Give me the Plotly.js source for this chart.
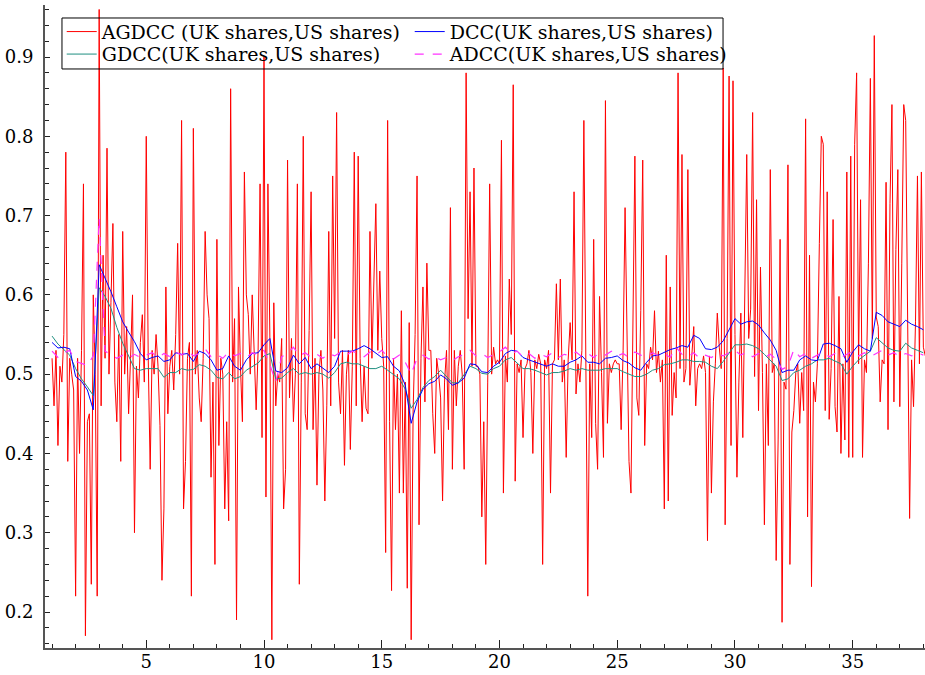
<!DOCTYPE html>
<html>
<head>
<meta charset="utf-8">
<script src="https://cdn.plot.ly/plotly-3.0.1.min.js"></script>
<style>html,body{margin:0;padding:0;background:#fff;}#chart{width:925px;height:675px;}</style>
</head>
<body>
<div id="chart"></div>
<script>
// Series names
const seriesNames = ["AGDCC (UK shares,US shares)", "DCC(UK shares,US shares)", "GDCC(UK shares,US shares)", "ADCC(UK shares,US shares)"];

// AGDCC: 12 observations per unit, starting at 1
const agdccStart = 1, agdccStep = 1/12;
const agdcc = [
0.52,0.46,0.53,0.41,0.51,0.49,0.55,0.78,0.39,0.52,0.50,0.48,
0.22,0.52,0.40,0.53,0.74,0.17,0.44,0.45,0.235,0.60,0.50,0.22,
0.96,0.46,0.65,0.52,0.785,0.50,0.59,0.69,0.49,0.44,0.55,0.39,
0.68,0.50,0.56,0.45,0.52,0.60,0.30,0.51,0.47,0.54,0.575,0.49,
0.80,0.52,0.38,0.53,0.50,0.55,0.51,0.435,0.24,0.33,0.61,0.45,
0.51,0.53,0.48,0.55,0.665,0.50,0.82,0.33,0.39,0.52,0.54,0.22,
0.81,0.50,0.53,0.47,0.44,0.52,0.68,0.60,0.57,0.37,0.49,0.26,
0.67,0.41,0.52,0.50,0.33,0.44,0.315,0.86,0.49,0.57,0.19,0.61,
0.51,0.44,0.755,0.60,0.575,0.50,0.60,0.52,0.455,0.53,0.74,0.42,
0.90,0.345,0.74,0.545,0.165,0.59,0.46,0.50,0.49,0.545,0.33,0.38,
0.77,0.47,0.545,0.44,0.50,0.74,0.235,0.49,0.80,0.45,0.43,0.555,
0.73,0.43,0.52,0.36,0.50,0.53,0.48,0.34,0.46,0.68,0.46,0.75,
0.545,0.83,0.49,0.45,0.53,0.385,0.50,0.53,0.405,0.51,0.78,0.46,
0.775,0.52,0.44,0.51,0.457,0.45,0.68,0.52,0.625,0.715,0.53,0.63,
0.545,0.51,0.275,0.82,0.44,0.227,0.52,0.43,0.50,0.35,0.58,0.35,
0.49,0.23,0.565,0.165,0.455,0.55,0.75,0.31,0.52,0.61,0.465,0.64,
0.53,0.53,0.45,0.40,0.52,0.50,0.47,0.34,0.49,0.53,0.43,0.71,
0.38,0.53,0.46,0.51,0.53,0.50,0.38,0.88,0.57,0.73,0.51,0.76,
0.51,0.51,0.50,0.32,0.44,0.26,0.49,0.74,0.50,0.534,0.513,0.518,
0.513,0.795,0.35,0.523,0.49,0.62,0.55,0.865,0.365,0.513,0.502,0.518,
0.42,0.507,0.513,0.53,0.502,0.40,0.518,0.507,0.525,0.513,0.26,0.518,
0.507,0.53,0.35,0.513,0.518,0.614,0.518,0.62,0.49,0.518,0.395,0.518,
0.565,0.518,0.73,0.475,0.513,0.49,0.53,0.82,0.518,0.22,0.513,0.42,
0.67,0.438,0.38,0.598,0.502,0.395,0.845,0.438,0.513,0.502,0.513,0.518,
0.513,0.513,0.43,0.53,0.71,0.513,0.39,0.35,0.53,0.775,0.47,0.448,
0.58,0.77,0.41,0.513,0.507,0.534,0.518,0.58,0.502,0.529,0.49,0.518,
0.33,0.65,0.34,0.61,0.448,0.502,0.47,0.88,0.507,0.777,0.49,0.507,
0.758,0.486,0.523,0.56,0.46,0.507,0.513,0.507,0.523,0.502,0.29,0.523,
0.35,0.465,0.513,0.577,0.534,0.507,0.886,0.31,0.545,0.876,0.41,0.87,
0.55,0.37,0.49,0.577,0.42,0.572,0.777,0.545,0.582,0.83,0.497,0.72,
0.454,0.635,0.502,0.31,0.513,0.41,0.758,0.502,0.513,0.265,0.417,0.67,
0.187,0.49,0.481,0.764,0.26,0.427,0.454,0.502,0.513,0.438,0.502,0.454,
0.822,0.32,0.65,0.232,0.49,0.465,0.513,0.665,0.80,0.79,0.454,0.73,
0.443,0.507,0.695,0.459,0.427,0.598,0.40,0.513,0.417,0.755,0.395,0.775,
0.395,0.79,0.88,0.513,0.72,0.395,0.518,0.502,0.64,0.873,0.545,0.927,
0.572,0.56,0.465,0.518,0.513,0.742,0.43,0.715,0.84,0.465,0.657,0.758,
0.459,0.64,0.84,0.82,0.529,0.318,0.518,0.459,0.566,0.75,0.513,0.755,
0.534,0.523
];

// Smooth series: 4 observations per unit, starting at 1
const smoothStart = 1, smoothStep = 0.25;
const dcc = [
0.540,0.533,0.534,0.532,0.497,0.491,0.480,0.455,
0.638,0.622,0.604,0.585,0.566,0.553,0.541,0.526,
0.518,0.521,0.523,0.516,0.518,0.527,0.525,0.526,
0.516,0.529,0.526,0.518,0.505,0.507,0.523,0.510,
0.505,0.518,0.526,0.527,0.537,0.545,0.504,0.502,
0.508,0.524,0.513,0.521,0.507,0.513,0.508,0.502,
0.510,0.529,0.529,0.529,0.532,0.536,0.532,0.526,
0.521,0.522,0.510,0.504,0.486,0.438,0.465,0.481,
0.488,0.491,0.499,0.494,0.486,0.489,0.495,0.513,
0.512,0.503,0.502,0.510,0.515,0.526,0.530,0.529,
0.521,0.518,0.515,0.512,0.510,0.513,0.510,0.510,
0.515,0.518,0.523,0.515,0.515,0.513,0.520,0.521,
0.523,0.517,0.514,0.508,0.505,0.515,0.523,0.524,
0.528,0.531,0.533,0.536,0.534,0.549,0.545,0.532,
0.531,0.534,0.542,0.556,0.570,0.563,0.566,0.567,
0.562,0.552,0.543,0.530,0.502,0.505,0.505,0.518,
0.523,0.518,0.517,0.538,0.539,0.536,0.532,0.515,
0.528,0.537,0.532,0.529,0.578,0.574,0.566,0.563,
0.560,0.568,0.563,0.560,0.556
];
const gdcc = [
0.548,0.538,0.531,0.524,0.507,0.494,0.484,0.473,
0.609,0.598,0.583,0.559,0.539,0.524,0.507,0.505,
0.507,0.507,0.507,0.496,0.502,0.502,0.507,0.505,
0.506,0.512,0.510,0.505,0.496,0.494,0.502,0.494,
0.497,0.505,0.510,0.514,0.523,0.526,0.494,0.495,
0.502,0.507,0.500,0.502,0.500,0.502,0.500,0.495,
0.502,0.513,0.515,0.513,0.513,0.510,0.507,0.507,
0.510,0.505,0.499,0.494,0.481,0.457,0.468,0.483,
0.492,0.497,0.505,0.497,0.489,0.489,0.499,0.510,
0.507,0.501,0.500,0.507,0.510,0.518,0.521,0.514,
0.507,0.507,0.505,0.502,0.499,0.502,0.502,0.504,
0.507,0.505,0.507,0.505,0.505,0.505,0.507,0.507,
0.507,0.503,0.500,0.497,0.497,0.500,0.505,0.507,
0.512,0.513,0.515,0.518,0.518,0.516,0.516,0.515,
0.510,0.507,0.516,0.526,0.537,0.537,0.538,0.536,
0.532,0.525,0.518,0.510,0.492,0.494,0.502,0.505,
0.510,0.513,0.518,0.518,0.520,0.517,0.513,0.500,
0.510,0.518,0.523,0.529,0.546,0.539,0.533,0.530,
0.529,0.539,0.533,0.530,0.527
];
const adcc = [
0.529,0.521,0.527,0.530,0.516,0.513,0.511,0.523,
0.697,0.529,0.524,0.520,0.524,0.520,0.525,0.521,
0.524,0.527,0.521,0.526,0.522,0.528,0.524,0.530,
0.523,0.526,0.532,0.522,0.525,0.520,0.528,0.523,
0.526,0.521,0.527,0.524,0.530,0.512,0.490,0.522,
0.526,0.534,0.523,0.527,0.521,0.525,0.520,0.526,
0.523,0.528,0.524,0.529,0.526,0.522,0.528,0.524,
0.530,0.522,0.519,0.524,0.515,0.500,0.520,0.524,
0.519,0.522,0.518,0.521,0.517,0.522,0.525,0.530,
0.523,0.526,0.521,0.525,0.528,0.534,0.526,0.529,
0.522,0.526,0.520,0.525,0.522,0.527,0.521,0.525,
0.523,0.528,0.522,0.526,0.521,0.527,0.524,0.529,
0.523,0.526,0.521,0.528,0.524,0.522,0.527,0.523,
0.526,0.521,0.534,0.525,0.522,0.527,0.520,0.524,
0.521,0.526,0.523,0.527,0.530,0.524,0.528,0.522,
0.526,0.521,0.525,0.519,0.506,0.510,0.531,0.522,
0.526,0.520,0.524,0.528,0.522,0.526,0.521,0.525,
0.529,0.523,0.527,0.522,0.526,0.530,0.524,0.527,
0.522,0.526,0.523,0.527,0.524
];

// Axis ticks
const xTickVals = [5, 10, 15, 20, 25, 30, 35];
const yTickVals = [0.2, 0.3, 0.4, 0.5, 0.6, 0.7, 0.8, 0.9];

const tickFont = {family: "DejaVu Serif", size: 18, color: "#000"};
const legFont = {family: "DejaVu Serif", size: 19, color: "#000"};

const traces = [
  {type: "scatter", mode: "lines", name: seriesNames[0], x0: agdccStart, dx: agdccStep, y: agdcc,
   line: {color: "#ff0000", width: 1}, legend: "legend", legendrank: 1},
  {type: "scatter", mode: "lines", name: seriesNames[2], x0: smoothStart, dx: smoothStep, y: gdcc,
   line: {color: "#1f8f80", width: 1}, legend: "legend2", legendrank: 1},
  {type: "scatter", mode: "lines", name: seriesNames[1], x0: smoothStart, dx: smoothStep, y: dcc,
   line: {color: "#0000ff", width: 1}, legend: "legend", legendrank: 2},
  {type: "scatter", mode: "lines", name: seriesNames[3], x0: smoothStart, dx: smoothStep, y: adcc,
   line: {color: "#ff33ff", width: 1.2, dash: "dash"}, legend: "legend2", legendrank: 2}
];

const legendBase = {
  orientation: "h", xanchor: "left", yanchor: "top",
  bgcolor: "rgba(0,0,0,0)", borderwidth: 0,
  font: legFont, entrywidth: 303, entrywidthmode: "pixels",
  traceorder: "normal", itemwidth: 30
};

const layout = {
  width: 925, height: 675,
  margin: {l: 45, r: 0, t: 5, b: 27, pad: 0},
  paper_bgcolor: "#fff", plot_bgcolor: "#fff",
  font: tickFont,
  showlegend: true,
  legend: Object.assign({}, legendBase, {x: 0.019, y: 0.988}),
  legend2: Object.assign({}, legendBase, {x: 0.019, y: 0.953}),
  shapes: [{type: "rect", xref: "paper", yref: "paper",
            x0: 0.0193, x1: 0.7705, y0: 0.9005, y1: 0.9798,
            line: {color: "#000", width: 1}, fillcolor: "rgba(0,0,0,0)", layer: "above"}],
  xaxis: {
    range: [0.7, 38.07], showgrid: false, zeroline: false,
    showline: true, linecolor: "#555", linewidth: 2, mirror: false,
    tickmode: "array", tickvals: xTickVals, ticktext: xTickVals.map(String),
    ticks: "inside", ticklen: 8, tickwidth: 1, tickcolor: "#222",
    minor: {dtick: 1, tick0: 0, ticks: "inside", ticklen: 4, tickcolor: "#222", tickwidth: 1, showgrid: false},
    tickfont: tickFont, ticklabelstandoff: -4
  },
  yaxis: {
    range: [0.1546, 0.9656], showgrid: false, zeroline: false,
    showline: true, linecolor: "#555", linewidth: 2,
    tickmode: "array", tickvals: yTickVals, ticktext: yTickVals.map(v => v.toFixed(1)),
    ticks: "inside", ticklen: 5, tickwidth: 1, tickcolor: "#222",
    minor: {dtick: 0.02, tick0: 0, ticks: "inside", ticklen: 4, tickcolor: "#222", tickwidth: 1, showgrid: false},
    tickfont: tickFont, ticklabelstandoff: 6
  }
};

Plotly.newPlot("chart", traces, layout, {displayModeBar: false, staticPlot: true});
</script>
</body>
</html>
